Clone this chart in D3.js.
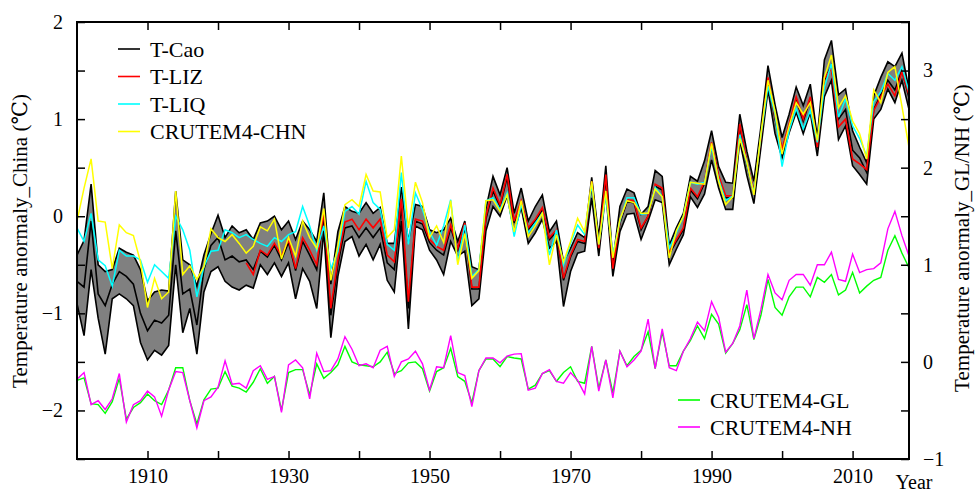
<!DOCTYPE html>
<html>
<head>
<meta charset="utf-8">
<script src="https://cdn.jsdelivr.net/npm/d3@7"></script>
<style>
  body { margin: 0; background: #fff; }
  svg text { font-family: "Liberation Serif", "Times New Roman", Times, "DejaVu Serif", serif; fill: #000; }
</style>
</head>
<body>
<svg id="chart" width="978" height="492"></svg>
<script>
// China series (left axis), 1900-2018
const years = d3.range(1900, 2019);
const lizYears = d3.range(1924, 2019);

// T-Cao range (upper / lower) and T-Cao mean
const caoHi = [
  -0.40,-0.25,0.33,-0.50,-0.57,-0.55,-0.33,-0.37,-0.40,-0.55,
  -0.87,-0.78,-0.76,-0.77,0.26,-0.45,-0.50,-0.72,-0.40,-0.18,
  0.01,-0.22,-0.10,-0.17,-0.14,-0.24,-0.07,-0.05,0.00,-0.14,
  -0.05,-0.24,-0.05,-0.14,-0.26,0.24,-0.70,-0.16,0.10,0.05,
  0.03,0.14,0.03,0.09,-0.28,-0.28,0.30,-0.26,0.12,0.10,
  -0.14,-0.17,-0.14,-0.02,-0.26,-0.05,-0.52,-0.55,0.08,0.41,
  0.22,0.50,0.03,0.29,-0.05,0.10,0.22,-0.16,-0.05,-0.47,
  -0.33,-0.17,-0.22,0.40,-0.22,0.52,-0.47,0.10,0.28,0.24,
  0.02,0.10,0.47,0.41,-0.30,-0.12,0.03,0.41,0.36,0.57,
  0.88,0.51,0.35,0.34,1.05,0.67,0.36,0.92,1.55,1.15,
  0.81,1.05,1.33,1.14,1.36,0.81,1.61,1.81,1.25,1.31,
  0.88,0.71,0.55,1.24,1.43,1.59,1.54,1.68,1.30
];
const caoLo = [
  -0.90,-1.23,-0.55,-1.05,-1.42,-0.85,-0.80,-0.85,-0.92,-1.30,
  -1.48,-1.38,-1.43,-1.33,-0.50,-1.20,-0.95,-1.42,-0.78,-0.57,
  -0.52,-0.67,-0.73,-0.76,-0.71,-0.74,-0.50,-0.60,-0.48,-0.62,
  -0.48,-0.85,-0.54,-0.67,-0.95,-0.15,-1.25,-0.62,-0.26,-0.21,
  -0.41,-0.29,-0.45,-0.29,-0.66,-0.78,-0.05,-1.16,-0.10,-0.14,
  -0.35,-0.45,-0.60,-0.26,-0.41,-0.36,-0.92,-0.85,-0.15,0.10,
  0.00,0.21,-0.16,0.09,-0.28,-0.17,-0.03,-0.33,-0.26,-0.93,
  -0.57,-0.38,-0.36,0.19,-0.41,0.26,-0.62,-0.16,0.02,0.03,
  -0.24,-0.05,0.17,0.14,-0.50,-0.34,-0.19,0.20,0.09,0.23,
  0.58,0.29,0.07,0.07,0.78,0.42,0.13,0.71,1.30,0.85,
  0.60,0.86,1.07,0.85,1.07,0.62,1.23,1.40,0.79,0.93,
  0.52,0.43,0.33,1.00,1.10,1.31,1.17,1.40,1.10
];
const caoMean = [
  -0.67,-0.73,-0.05,-0.80,-0.92,-0.70,-0.57,-0.62,-0.70,-1.00,
  -1.18,-1.07,-1.10,-1.02,-0.15,-0.80,-0.75,-1.12,-0.55,-0.30,
  -0.22,-0.45,-0.41,-0.47,-0.45,-0.55,-0.36,-0.42,-0.30,-0.45,
  -0.27,-0.56,-0.26,-0.40,-0.55,0.00,-1.02,-0.50,-0.12,-0.10,
  -0.22,-0.12,-0.22,-0.12,-0.48,-0.55,0.10,-0.95,-0.05,-0.08,
  -0.27,-0.35,-0.40,-0.12,-0.35,-0.12,-0.75,-0.75,-0.03,0.26,
  0.10,0.40,-0.07,0.14,-0.14,-0.05,0.07,-0.24,-0.16,-0.66,
  -0.42,-0.26,-0.28,0.33,-0.35,0.40,-0.56,-0.07,0.15,0.14,
  -0.14,0.00,0.31,0.27,-0.39,-0.26,-0.14,0.27,0.18,0.34,
  0.74,0.40,0.19,0.19,0.93,0.54,0.24,0.80,1.41,1.00,
  0.68,0.93,1.20,0.98,1.21,0.70,1.40,1.55,1.00,1.10,
  0.68,0.60,0.45,1.10,1.25,1.40,1.30,1.50,1.22
];
// T-LIZ, 1924-2018
const liz = [
  -0.48,-0.60,-0.35,-0.40,-0.28,-0.41,
  -0.24,-0.54,-0.22,-0.35,-0.50,0.05,-0.95,-0.45,-0.06,-0.03,
  -0.14,-0.03,-0.12,-0.03,-0.40,-0.47,0.18,-0.88,-0.03,-0.05,
  -0.24,-0.31,-0.35,-0.09,-0.33,-0.07,-0.73,-0.73,0.00,0.29,
  0.12,0.43,-0.05,0.16,-0.12,-0.03,0.09,-0.22,-0.14,-0.64,
  -0.40,-0.24,-0.26,0.36,-0.33,0.43,-0.54,-0.05,0.17,0.16,
  -0.12,0.00,0.33,0.29,-0.37,-0.24,-0.12,0.29,0.20,0.36,
  0.76,0.42,0.21,0.21,0.95,0.56,0.26,0.81,1.43,1.02,
  0.69,0.95,1.23,1.00,1.23,0.71,1.42,1.52,0.92,1.00,
  0.59,0.54,0.48,1.09,1.23,1.36,1.24,1.49,1.25
];
// T-LIQ
const liq = [
  -0.12,-0.26,0.03,-0.45,-0.51,-0.72,-0.35,-0.41,-0.41,-0.45,
  -0.68,-0.50,-0.57,-0.64,0.00,-0.14,-0.35,-0.83,-0.52,-0.36,
  -0.35,-0.14,-0.17,-0.22,-0.19,-0.24,-0.28,-0.31,-0.22,-0.26,
  -0.19,-0.16,0.10,-0.10,-0.35,-0.10,-0.54,-0.36,0.05,0.10,
  0.02,0.36,0.14,0.07,-0.29,-0.35,0.45,-0.29,0.24,0.07,
  -0.16,-0.30,-0.10,0.17,-0.47,-0.09,-0.62,-0.55,0.16,0.19,
  0.07,0.24,-0.21,0.12,-0.17,-0.07,0.03,-0.40,-0.14,-0.50,
  -0.28,-0.09,-0.19,0.33,-0.29,0.22,-0.40,-0.05,0.19,0.19,
  0.02,0.03,0.30,0.20,-0.33,-0.17,0.00,0.35,0.33,0.35,
  0.72,0.38,0.16,0.21,0.84,0.55,0.24,0.83,1.34,1.05,
  0.51,0.88,1.11,0.90,1.09,0.76,1.33,1.57,1.02,1.21,
  0.93,0.80,0.62,1.18,1.28,1.47,1.40,1.54,1.28
];
// CRUTEM4-CHN
const chn = [
  -0.05,0.29,0.59,-0.05,-0.06,-0.54,-0.09,-0.17,-0.20,-0.47,
  -0.94,-0.64,-0.85,-0.78,0.26,-0.60,-0.51,-0.65,-0.52,-0.13,
  -0.22,-0.26,-0.19,-0.28,-0.38,-0.31,-0.11,-0.15,-0.03,-0.44,
  -0.22,-0.41,-0.05,-0.22,-0.33,0.08,-0.66,-0.30,0.12,0.17,
  0.10,0.43,0.26,0.25,-0.22,-0.14,0.62,-0.12,0.35,0.14,
  -0.22,-0.10,-0.27,0.16,-0.50,-0.18,-0.64,-0.56,0.16,0.17,
  0.05,0.22,-0.16,0.16,-0.21,-0.10,0.03,-0.50,-0.19,-0.47,
  -0.26,-0.02,-0.16,0.36,-0.29,0.26,-0.43,-0.03,0.16,0.14,
  0.03,0.03,0.28,0.20,-0.43,-0.15,0.00,0.35,0.34,0.33,
  0.75,0.36,0.12,0.20,0.80,0.56,0.22,0.85,1.40,1.08,
  0.64,0.93,1.17,1.05,1.17,0.78,1.43,1.66,1.12,1.24,
  0.98,0.85,0.59,1.30,1.17,1.48,1.54,1.13,0.71
];

// GL / NH series (right axis)
const crutGL = [
  -0.19,-0.165,-0.43,-0.44,-0.53,-0.41,-0.17,-0.59,-0.47,-0.42,
  -0.33,-0.40,-0.44,-0.29,-0.06,-0.06,-0.40,-0.64,-0.39,-0.28,
  -0.27,-0.10,-0.25,-0.27,-0.31,-0.21,-0.07,-0.22,-0.15,-0.50,
  -0.11,-0.08,-0.08,-0.34,-0.02,-0.17,-0.11,-0.03,0.16,0.00,
  -0.03,-0.04,-0.05,0.00,0.10,-0.12,-0.09,-0.01,0.00,-0.07,
  -0.30,-0.10,-0.06,0.14,-0.15,-0.20,-0.42,-0.09,0.03,0.03,
  -0.05,0.055,0.04,0.03,-0.28,-0.24,-0.12,-0.09,-0.20,-0.11,
  -0.05,-0.20,-0.22,0.16,-0.27,0.02,-0.32,0.11,-0.04,0.055,
  0.12,0.31,-0.07,0.31,-0.04,-0.04,0.11,0.22,0.37,0.24,
  0.49,0.39,0.09,0.19,0.33,0.59,0.23,0.48,0.85,0.56,
  0.48,0.67,0.77,0.77,0.67,0.87,0.82,0.90,0.69,0.74,
  0.92,0.71,0.78,0.84,0.87,1.15,1.30,1.12,0.97
];
const crutNH = [
  -0.18,-0.11,-0.44,-0.40,-0.49,-0.38,-0.12,-0.62,-0.44,-0.40,
  -0.30,-0.36,-0.56,-0.29,-0.10,-0.11,-0.40,-0.68,-0.40,-0.36,
  -0.26,0.01,-0.23,-0.22,-0.27,-0.09,-0.04,-0.18,-0.15,-0.52,
  -0.03,0.02,-0.06,-0.38,0.09,-0.10,-0.09,0.03,0.26,0.13,
  -0.04,-0.02,-0.06,0.12,0.16,-0.15,0.00,0.03,0.11,-0.02,
  -0.29,-0.05,-0.06,0.27,-0.11,-0.14,-0.46,-0.09,0.04,0.04,
  -0.01,0.06,0.08,0.085,-0.29,-0.27,-0.12,-0.08,-0.20,-0.22,
  -0.11,-0.19,-0.33,0.16,-0.30,0.02,-0.37,0.11,-0.05,0.02,
  0.11,0.44,-0.07,0.34,-0.06,-0.09,0.11,0.24,0.41,0.32,
  0.62,0.46,0.10,0.19,0.37,0.74,0.24,0.54,0.90,0.71,
  0.64,0.84,0.90,0.90,0.79,1.00,1.00,1.13,0.85,0.83,
  1.11,0.92,0.95,0.96,1.02,1.37,1.55,1.30,1.09
];

const leftTicks = d3.range(-2.5, 2.01, 0.5);
const rightTicks = d3.range(-1, 3.51, 0.5);
const xTicks = d3.range(1910, 2011, 10);
const xLabels = [1910, 1930, 1950, 1970, 1990, 2010];

const legendTop = [
  { name: "T-Cao", color: "#000000" },
  { name: "T-LIZ", color: "#ff0000" },
  { name: "T-LIQ", color: "#00ffff" },
  { name: "CRUTEM4-CHN", color: "#ffff00" },
];
const legendBottom = [
  { name: "CRUTEM4-GL", color: "#00ff00" },
  { name: "CRUTEM4-NH", color: "#ff00ff" },
];

// ------------------------------------------------------------------
const svg = d3.select("#chart");
const plot = { left: 77, right: 909, top: 22, bottom: 459 };

const x = d3.scaleLinear().domain([1900, 2018]).range([plot.left, plot.right]);
const yL = d3.scaleLinear().domain([-2.5, 2]).range([plot.bottom, plot.top]);
const yR = d3.scaleLinear().domain([-1, 3.5]).range([plot.bottom, plot.top]);

const fmt = d3.format("d");

// band
const band = years.map((yr, i) => ({ yr, hi: caoHi[i], lo: caoLo[i] }));
svg.append("path")
  .datum(band)
  .attr("fill", "#808080")
  .attr("d", d3.area().x(d => x(d.yr)).y0(d => yL(d.lo)).y1(d => yL(d.hi)));

function drawLine(xs, vals, yScale, color, width) {
  svg.append("path")
    .datum(xs.map((yr, i) => [yr, vals[i]]))
    .attr("fill", "none")
    .attr("stroke", color)
    .attr("stroke-width", width)
    .attr("d", d3.line().x(d => x(d[0])).y(d => yScale(d[1])));
}

drawLine(years, caoHi, yL, "#000", 1.6);
drawLine(years, caoLo, yL, "#000", 1.6);
drawLine(years, caoMean, yL, "#000", 1.6);
drawLine(lizYears, liz, yL, "#ff0000", 1.6);
drawLine(years, liq, yL, "#00ffff", 1.5);
drawLine(years, chn, yL, "#ffff00", 1.5);
drawLine(years, crutGL, yR, "#00ff00", 1.4);
drawLine(years, crutNH, yR, "#ff00ff", 1.4);

// axes (ticks inside)
const gL = svg.append("g").attr("transform", `translate(${plot.left},0)`)
  .call(d3.axisLeft(yL).tickValues(leftTicks).tickSize(-8).tickPadding(14)
    .tickFormat(d => Number.isInteger(d) ? fmt(d) : ""));
const gR = svg.append("g").attr("transform", `translate(${plot.right},0)`)
  .call(d3.axisRight(yR).tickValues(rightTicks).tickSize(-8).tickPadding(14)
    .tickFormat(d => Number.isInteger(d) ? fmt(d) : ""));
const gB = svg.append("g").attr("transform", `translate(0,${plot.bottom})`)
  .call(d3.axisBottom(x).tickValues(xTicks).tickSize(-8).tickPadding(10)
    .tickFormat(d => xLabels.includes(d) ? String(d) : ""));
const gT = svg.append("g").attr("transform", `translate(0,${plot.top})`)
  .call(d3.axisTop(x).tickValues(xTicks).tickSize(-8).tickFormat(""));

[gL, gR, gB, gT].forEach(g => {
  g.attr("font-family", null);
  g.select(".domain").remove();
  g.selectAll(".tick line").attr("stroke", "#000").attr("stroke-width", 1.5);
  g.selectAll(".tick text").attr("font-size", 20);
});

svg.append("rect")
  .attr("x", plot.left).attr("y", plot.top)
  .attr("width", plot.right - plot.left).attr("height", plot.bottom - plot.top)
  .attr("fill", "none").attr("stroke", "#000").attr("stroke-width", 2);

// axis titles
svg.append("text")
  .attr("transform", "translate(27,241) rotate(-90)")
  .attr("text-anchor", "middle").attr("font-size", 21)
  .text("Temperature anormaly_China (℃)");
svg.append("text")
  .attr("transform", "translate(969,238) rotate(-90)")
  .attr("text-anchor", "middle").attr("font-size", 21)
  .text("Temperature anormaly_GL/NH (℃)");
svg.append("text")
  .attr("x", 914).attr("y", 489).attr("text-anchor", "middle")
  .attr("font-size", 20).text("Year");

// legends
function legend(items, lx, ly, gap) {
  const g = svg.append("g");
  items.forEach((it, i) => {
    const cy = ly + i * gap;
    g.append("line").attr("x1", lx).attr("x2", lx + 22)
      .attr("y1", cy).attr("y2", cy)
      .attr("stroke", it.color).attr("stroke-width", 1.6);
    g.append("text").attr("x", lx + 32).attr("y", cy).attr("dy", "0.35em")
      .attr("font-size", 22).text(it.name);
  });
}
legend(legendTop, 118, 49, 27.5);
legend(legendBottom, 678, 400, 27);
</script>
</body>
</html>
